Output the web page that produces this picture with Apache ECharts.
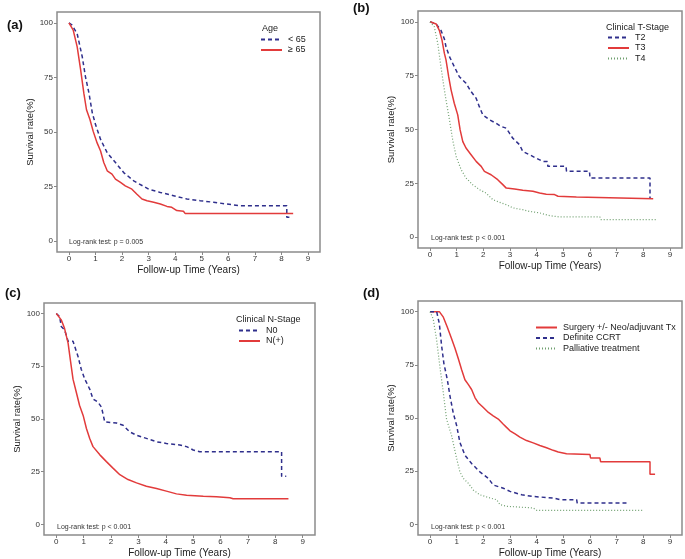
<!DOCTYPE html>
<html><head><meta charset="utf-8">
<script src="https://cdn.jsdelivr.net/npm/echarts@6/dist/echarts.min.js"></script>
<style>html,body{margin:0;padding:0;background:#fff}#c{width:685px;height:559px}</style>
</head><body><div id="c"></div>
<script>
// ---- Data (time in years, survival %) ----
const xTicks = [0,1,2,3,4,5,6,7,8,9];
const yTicks = [0,25,50,75,100];

// (a) Age
const ageLt65 = [[0,100],[0.12,99],[0.31,95],[0.5,84.5],[0.62,75.4],[0.75,68],[0.88,58.7],[1.0,53.4],[1.19,46.6],[1.44,40.5],[1.75,36],[2.06,31.4],[2.44,27.6],[3.0,23.8],[3.44,22.3],[3.94,20.8],[4.44,19.3],[4.94,18.5],[5.44,17.8],[5.94,17],[6.44,16.2],[8.2,16.2],[8.2,10.9],[8.3,10.9]];
const ageGe65 = [[0,100],[0.16,96.7],[0.31,89],[0.44,78.5],[0.56,67.8],[0.66,60.2],[0.79,55.7],[0.91,50.4],[1.06,45],[1.19,41.3],[1.31,36],[1.44,32.2],[1.62,30.7],[1.75,28.4],[1.94,26.9],[2.12,25.3],[2.37,23.8],[2.56,21.5],[2.75,19.3],[2.94,18.5],[3.19,17.8],[3.44,17],[3.69,15.9],[3.87,15.5],[4.06,14],[4.31,13.7],[4.37,12.7],[8.44,12.7]];

// (b) Clinical T-Stage
const tT2 = [[0,100],[0.23,99],[0.41,96],[0.54,92],[0.6,88.4],[0.73,83.8],[0.91,79.2],[1.1,74.5],[1.35,71.5],[1.54,67.6],[1.73,64.5],[1.85,60.6],[1.98,56.8],[2.23,54.5],[2.48,52.9],[2.67,51.4],[2.86,50.6],[2.98,48.3],[3.1,46],[3.36,42.9],[3.48,39.8],[3.73,38.3],[3.98,36.7],[4.23,35.2],[4.4,35.2],[4.42,32.9],[5.1,32.9],[5.12,30.6],[5.98,30.6],[6.0,27.5],[8.25,27.5],[8.25,18.2]];
const tT3 = [[0,100],[0.23,99],[0.35,96],[0.45,91.5],[0.54,85.3],[0.6,82.3],[0.7,74.5],[0.79,68.4],[0.91,62.2],[1.04,56.8],[1.13,49.8],[1.23,44.4],[1.35,41.4],[1.54,38.3],[1.73,35.2],[1.92,32.9],[2.04,30.6],[2.29,29],[2.54,26.7],[2.73,24.4],[2.86,22.8],[3.17,22.4],[3.48,21.8],[3.86,21.3],[4.11,20.5],[4.36,20],[4.67,19.8],[4.8,19],[5.49,18.7],[5.5,17.9],[8.37,17.9]];
const tT4 = [[0,100],[0.16,97.7],[0.29,90],[0.41,79.2],[0.5,71.5],[0.6,63.7],[0.73,54.5],[0.85,45.2],[0.98,37.5],[1.17,31.3],[1.35,27.5],[1.6,24.4],[1.85,22.1],[2.1,20.5],[2.36,17.4],[2.61,16.2],[2.86,15.1],[3.11,13.6],[3.48,12.8],[3.73,12],[4.11,11.3],[4.49,10],[4.86,9.4],[6.37,9.4],[6.4,8.2],[8.5,8.2]];

// (c) Clinical N-Stage
const nN0 = [[0,100],[0.12,98.6],[0.18,93.9],[0.3,92.3],[0.43,86.9],[0.61,86.9],[0.67,84.5],[0.79,79.8],[0.91,73.6],[1.04,68.9],[1.22,64.2],[1.34,59.5],[1.52,58],[1.65,55.6],[1.77,48.6],[2.2,48.1],[2.44,47],[2.68,43.9],[2.93,42.3],[3.29,40.8],[3.66,39.2],[4.02,38.4],[4.51,37.7],[4.76,36.9],[5.0,35.3],[5.24,34.5],[8.23,34.5],[8.23,22.8],[8.4,22.8]];
const nPos = [[0,100],[0.18,97],[0.3,93],[0.43,86],[0.51,78.3],[0.61,68.9],[0.73,62.7],[0.85,56.4],[0.98,51.7],[1.1,45.5],[1.22,40.8],[1.34,36.9],[1.59,33],[1.83,29.8],[2.07,26.7],[2.32,23.6],[2.62,21.3],[2.93,19.7],[3.29,18.1],[3.66,17],[4.02,15.8],[4.39,14.5],[4.76,13.9],[5.37,13.4],[5.85,13.1],[6.34,12.7],[6.46,12.2],[8.48,12.2]];

// (d) Treatment
const txSurgery = [[0,100],[0.35,100],[0.5,97.4],[0.65,92.7],[0.81,87.3],[0.94,82.7],[1.06,78],[1.19,72.6],[1.31,68],[1.44,65.7],[1.56,63.4],[1.69,59.5],[1.81,57.2],[2.0,54.9],[2.19,52.6],[2.37,51],[2.56,49.5],[2.75,47.1],[2.87,45.6],[3.0,44],[3.19,42.5],[3.37,41],[3.62,39.4],[3.87,38.3],[4.12,37.1],[4.37,36],[4.62,34.8],[4.81,34],[5.12,33.2],[6.0,32.8],[6.02,31.2],[6.37,31.2],[6.4,29.4],[8.25,29.4],[8.25,23.5],[8.44,23.5]];
const txCCRT = [[0,100],[0.25,100],[0.35,94.3],[0.44,83.5],[0.52,75.7],[0.65,68],[0.75,60.3],[0.87,52.5],[1.0,46.4],[1.12,38.6],[1.31,32.5],[1.56,28.6],[1.87,24.7],[2.19,21.6],[2.37,18.5],[2.75,17],[3.0,15.5],[3.44,13.9],[3.87,13.1],[4.62,12.4],[4.87,11.6],[5.5,11.6],[5.52,10],[7.37,10]];
const txPalliative = [[0,100],[0.12,96.6],[0.25,86.6],[0.37,74.2],[0.5,61.8],[0.62,49.5],[0.81,41.7],[1.0,30.9],[1.12,24.7],[1.25,21.6],[1.44,19.3],[1.62,16.2],[1.87,13.9],[2.25,12.4],[2.5,11.6],[2.62,9.3],[2.87,8.5],[3.87,7.7],[4.0,6.6],[8.0,6.6]];

const pTexts = ['Log-rank test: p = 0.005','Log-rank test: p < 0.001','Log-rank test: p < 0.001','Log-rank test: p < 0.001'];
const panelLabels = ['(a)','(b)','(c)','(d)'];
const legendTitles = ['Age','Clinical T-Stage','Clinical N-Stage'];

// ---- Layout / styles ----
const FONT = '"Liberation Sans", Arial, sans-serif';
const BLUE = '#2f2f8c', RED = '#e23b3b', GREEN = '#6f9f6f';
const grids = [
  {left:57, top:12, width:263, height:240},
  {left:418, top:11, width:264, height:237},
  {left:44, top:303, width:271, height:234},
  {left:418, top:301, width:264, height:236}
];
const styleDash = {color:BLUE, width:1.5, type:[4,3]};
const styleSolid = {color:RED, width:1.5, type:'solid'};
const styleDot = {color:GREEN, width:1.2, type:[1,2]};

function mkSeries(name, data, gi, ls, z){
  return {type:'line', name, data, xAxisIndex:gi, yAxisIndex:gi, symbol:'none', showSymbol:false,
    lineStyle:ls, itemStyle:{color:ls.color}, color:ls.color, animation:false, z:z||2, silent:true};
}

const series = [
  mkSeries('< 65', ageLt65, 0, styleDash, 2),
  mkSeries('\u2265 65', ageGe65, 0, styleSolid, 3),
  mkSeries('T2', tT2, 1, styleDash),
  mkSeries('T3', tT3, 1, styleSolid),
  mkSeries('T4', tT4, 1, styleDot),
  mkSeries('N0', nN0, 2, styleDash),
  mkSeries('N(+)', nPos, 2, styleSolid),
  mkSeries('Surgery +/- Neo/adjuvant Tx', txSurgery, 3, styleSolid),
  mkSeries('Definite CCRT', txCCRT, 3, styleDash),
  mkSeries('Palliative treatment', txPalliative, 3, styleDot)
];

const xAxes = grids.map((g,i)=>({
  type:'value', gridIndex:i, min:-0.45, max:9.45, position:'bottom',
  name:'Follow-up Time (Years)', nameLocation:'middle', nameGap:13,
  nameTextStyle:{fontFamily:FONT, fontSize:10, color:'#222'},
  axisLine:{show:false, onZero:false}, splitLine:{show:false},
  axisTick:{show:true, inside:false, length:3, customValues:xTicks, lineStyle:{color:'#888'}},
  axisLabel:{customValues:xTicks, margin:3, fontFamily:FONT, fontSize:8, color:'#333'}
}));
const yAxes = grids.map((g,i)=>({
  type:'value', gridIndex:i, min:-5, max:105, position:'left',
  name:'Survival rate(%)', nameLocation:'middle', nameGap:20,
  nameTextStyle:{fontFamily:FONT, fontSize:9.5, color:'#222'},
  axisLine:{show:false, onZero:false}, splitLine:{show:false},
  axisTick:{show:true, length:3, customValues:yTicks, lineStyle:{color:'#888'}},
  axisLabel:{customValues:yTicks, margin:4, fontFamily:FONT, fontSize:8, color:'#333'}
}));

const legendBase = {orient:'vertical', padding:0, itemWidth:21, itemHeight:8, itemGap:1.5,
  itemStyle:{opacity:0, borderWidth:0},
  textStyle:{fontFamily:FONT, fontSize:9, color:'#222', padding:[0,0,0,1]}, selectedMode:false};
const legends = [
  Object.assign({}, legendBase, {left:260, top:35, data:['< 65','\u2265 65']}),
  Object.assign({}, legendBase, {left:607, top:33, data:['T2','T3','T4']}),
  Object.assign({}, legendBase, {left:238, top:326, data:['N0','N(+)']}),
  Object.assign({}, legendBase, {left:535, top:323, data:['Surgery +/- Neo/adjuvant Tx','Definite CCRT','Palliative treatment']})
];

const graphic = [];
const pPos = [[69,242],[431,238],[57,527],[431,527]];
pTexts.forEach((t,i)=>graphic.push({type:'text', x:pPos[i][0], y:pPos[i][1],
  style:{text:t, font:'7px '+FONT, fill:'#333', textVerticalAlign:'middle', verticalAlign:'middle'}}));
const labPos = [[7,25],[353,8],[5,293],[363,293]];
panelLabels.forEach((t,i)=>graphic.push({type:'text', x:labPos[i][0], y:labPos[i][1],
  style:{text:t, font:'bold 13px '+FONT, fill:'#111', textVerticalAlign:'middle', verticalAlign:'middle'}}));
const ltPos = [[262,29],[606,28],[236,320]];
legendTitles.forEach((t,i)=>graphic.push({type:'text', x:ltPos[i][0], y:ltPos[i][1],
  style:{text:t, font:'9px '+FONT, fill:'#222', textVerticalAlign:'middle', verticalAlign:'middle'}}));

const chart = echarts.init(document.getElementById('c'), null, {renderer:'canvas'});
chart.setOption({
  animation:false,
  backgroundColor:'#fff',
  grid: grids.map(g=>Object.assign({show:true, borderColor:'#8c8c8c', borderWidth:1.5, backgroundColor:'transparent'}, g)),
  xAxis: xAxes, yAxis: yAxes, legend: legends, series, graphic
});
</script></body></html>
